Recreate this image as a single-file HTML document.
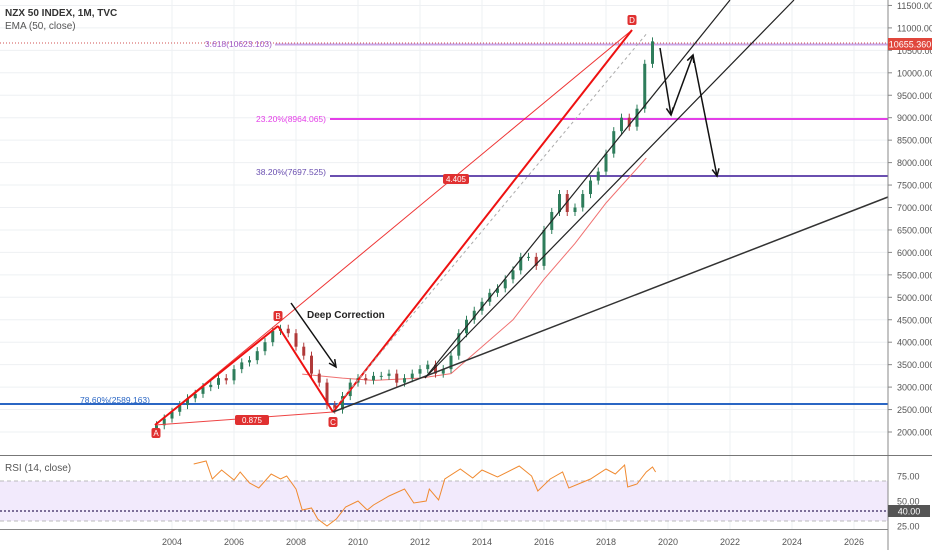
<!DOCTYPE html>
<html><head><meta charset="utf-8"><style>
body{margin:0;background:#fff;font-family:"Liberation Sans",sans-serif}
svg{display:block}
</style></head><body>
<svg width="932" height="550" viewBox="0 0 932 550" id="chart">
<g id="grid"></g>
<g id="main"></g>
<g id="rsi"></g>
<g id="axes"></g>
<text x="5" y="16" font-size="10" font-weight="bold" fill="#333">NZX 50 INDEX, 1M, TVC</text>
<text x="5" y="29" font-size="10" fill="#555">EMA (50, close)</text>
<text x="5" y="471" font-size="10" fill="#555">RSI (14, close)</text>
</svg>
<script>
const priceTicks=[2000,2500,3000,3500,4000,4500,5000,5500,6000,6500,7000,7500,8000,8500,9000,9500,10000,10500,11000,11500];
const yearTicks=[2004,2006,2008,2010,2012,2014,2016,2018,2020,2022,2024,2026];
const rsiTicks=[25,50,75];
const qStart=2003.5;
const closes=[2150,2300,2450,2600,2750,2850,3000,3050,3200,3150,3400,3550,3600,3800,4000,4250,4300,4200,3900,3700,3300,3100,2600,2500,2800,3100,3200,3150,3250,3250,3300,3100,3200,3300,3400,3500,3300,3400,3700,4200,4500,4700,4900,5100,5200,5400,5600,5900,5900,5700,6500,6900,7300,6900,7000,7300,7600,7800,8200,8700,9000,8800,9200,10200,10700];
const emaYears=[2008.2,2009.5,2010.5,2012,2013,2014,2015,2016,2017,2018,2019.3];
const emaVals=[3290,3200,3150,3200,3300,3900,4500,5400,6200,7100,8100];
const rsiYears=[2004.7,2005.1,2005.3,2005.6,2006,2006.2,2006.5,2006.8,2007.2,2007.5,2007.7,2008,2008.2,2008.5,2008.7,2009,2009.3,2009.6,2010,2010.3,2010.5,2011,2011.5,2011.8,2012.2,2012.3,2012.6,2012.8,2013.3,2013.7,2014,2014.5,2015.2,2015.6,2015.8,2016.2,2016.6,2016.8,2017.5,2018,2018.3,2018.6,2018.7,2019,2019.3,2019.5,2019.6];
const rsiVals=[87,90,72,81,71,79,68,63,77,72,75,62,41,43,32,25,32,44,50,41,46,55,62,48,50,62,51,72,82,73,81,74,85,75,60,72,79,63,72,82,77,86,64,67,79,84,79];

const NS='http://www.w3.org/2000/svg';
const X=yr=>172+(yr-2004)*31;
const Y=v=>432-(v-2000)*0.0449;
const RY=v=>551-v;
function el(p,tag,a){const e=document.createElementNS(NS,tag);for(const k in a)e.setAttribute(k,a[k]);p.appendChild(e);return e;}
const grid=document.getElementById('grid'),main=document.getElementById('main'),rsi=document.getElementById('rsi'),axes=document.getElementById('axes');

priceTicks.forEach(v=>{const l=el(grid,'line',{x1:0,x2:888,y1:Y(v),y2:Y(v),stroke:'#eef0f3'});


const t=el(axes,'text',{x:897,y:Y(v)+3.5,'font-size':9,fill:'#555'});t.textContent=v.toFixed(3);


el(axes,'line',{x1:888,x2:892,y1:Y(v),y2:Y(v),stroke:'#888'});});
yearTicks.forEach(yr=>{const l=el(grid,'line',{x1:X(yr),x2:X(yr),y1:0,y2:530,stroke:'#eef0f3'});


const t=el(axes,'text',{x:X(yr),y:545,'font-size':9,fill:'#555','text-anchor':'middle'});t.textContent=yr;

});

el(axes,'line',{x1:888,x2:888,y1:0,y2:550,stroke:'#888'});
el(axes,'line',{x1:0,x2:932,y1:455.5,y2:455.5,stroke:'#777'});
el(axes,'line',{x1:0,x2:888,y1:529.5,y2:529.5,stroke:'#888'});

function hline(y,x1,color,w,name){const l=el(main,'line',{x1:x1,x2:888,y1:y,y2:y,stroke:color,'stroke-width':w});

}
el(main,'line',{x1:0,x2:888,y1:43,y2:43,stroke:'#d05050','stroke-dasharray':'1,2','stroke-width':1});
hline(44.5,275,'#c9a6e6',2,'fib-3618-line');
hline(119,330,'#e43fe8',2,'fib-2320-line');
hline(176,330,'#6a4fb0',2,'fib-3820-line');
hline(404,0,'#2a66c4',2,'fib-7860-line');
function lbl(x,y,txt,c,anchor,name){const t=el(main,'text',{x:x,y:y,'font-size':8.5,fill:c,'text-anchor':anchor||'end'});t.textContent=txt;

}
lbl(272,47,'3.618(10623.103)','#a05cc8','end','fib-3618-label');
lbl(326,122,'23.20%(8964.065)','#e43fe8','end','fib-2320-label');
lbl(326,175,'38.20%(7697.525)','#6a4fb0','end','fib-3820-label');
lbl(150,403,'78.60%(2589.163)','#2a66c4','end','fib-7860-label');

let d=emaYears.map((yr,i)=>(i?'L':'M')+X(yr).toFixed(1)+','+Y(emaVals[i]).toFixed(1)).join(' ');
const ema=el(main,'path',{d:d,fill:'none',stroke:'#f07070','stroke-width':1});



closes.forEach((c,i)=>{const o=i?closes[i-1]:c-100;const x=X(qStart+i*0.25);const up=c>=o;const col=up?'#2e7d5b':'#b03a3a';
const hi=Math.max(o,c)+90,lo=Math.min(o,c)-90;
el(main,'line',{x1:x,x2:x,y1:Y(hi),y2:Y(lo),stroke:col,'stroke-width':1});
const r=el(main,'rect',{x:x-1.5,y:Y(Math.max(o,c)),width:3,height:Math.max(1,Math.abs(Y(o)-Y(c))),fill:col});

});

function ln(x1,y1,x2,y2,c,w,name,dash){const l=el(main,'line',{x1,y1,x2,y2,stroke:c,'stroke-width':w});if(dash)l.setAttribute('stroke-dasharray',dash);

return l;}
ln(155,425,632,30,'#e33','1','trend-a-d');
ln(155,425,333,412,'#e44','1','line-a-c');
ln(155,425,278,326,'#e11','2','wave-a-b');
ln(278,326,333,412,'#e11','2','wave-b-c');
ln(333,412,632,30,'#e11','2','wave-c-d');
ln(333,410,648,32,'#aaa','1','dashed-projection','3,3');
ln(333,412,888,197,'#333','1.5','long-trendline');
ln(425,378,730,0,'#222','1.2','steep-trendline-1');
ln(425,378,794,0,'#222','1.2','steep-trendline-2');
function arrow(pts,name){const p=el(main,'polyline',{points:pts.map(q=>q.join(',')).join(' '),fill:'none',stroke:'#111','stroke-width':1.5});


const [a,b]=pts.slice(-2);const ang=Math.atan2(b[1]-a[1],b[0]-a[0]);
const h=(s)=>[b[0]-8*Math.cos(ang+s),b[1]-8*Math.sin(ang+s)];
el(main,'polyline',{points:[h(0.45),b,h(-0.45)].map(q=>q.join(',')).join(' '),fill:'none',stroke:'#111','stroke-width':1.5});}
arrow([[291,303],[336,367]],'correction-arrow');
arrow([[660,48],[671,115]],'projection-arrow-1');
arrow([[671,115],[693,55]],'projection-arrow-2');
arrow([[693,55],[717,176]],'projection-arrow-3');
const dc=el(main,'text',{x:307,y:318,'font-size':10,'font-weight':'bold',fill:'#222'});dc.textContent='Deep Correction';



function tag(x,y,txt,name,w){el(main,'rect',{x:x-(w||4.5),y:y-5,width:2*(w||4.5),height:10,rx:2,fill:'#e03030'});
const t=el(main,'text',{x:x,y:y+3,'font-size':8,fill:'#fff','text-anchor':'middle'});t.textContent=txt;

}
tag(156,433,'A','point-a');tag(278,316,'B','point-b');tag(333,422,'C','point-c');tag(632,20,'D','point-d');
tag(252,420,'0.875','ratio-ac',17);tag(456,179,'4.405','ratio-cd',13);

el(axes,'rect',{x:888,y:38,width:44,height:12,fill:'#e0463c'});
const pt=el(axes,'text',{x:910,y:47.5,'font-size':9,fill:'#fff','text-anchor':'middle'});pt.textContent='10655.360';



el(rsi,'rect',{x:0,y:RY(70),width:888,height:40,fill:'#f2eafc'});
el(rsi,'line',{x1:0,x2:888,y1:RY(70),y2:RY(70),stroke:'#bbb','stroke-dasharray':'4,3'});
el(rsi,'line',{x1:0,x2:888,y1:RY(30),y2:RY(30),stroke:'#bbb','stroke-dasharray':'4,3'});
el(rsi,'line',{x1:0,x2:888,y1:RY(40),y2:RY(40),stroke:'#554477','stroke-width':1.5,'stroke-dasharray':'2,2'});
d=rsiYears.map((yr,i)=>(i?'L':'M')+X(yr).toFixed(1)+','+RY(rsiVals[i]).toFixed(1)).join(' ');
const rl=el(rsi,'path',{d:d,fill:'none',stroke:'#f08a30','stroke-width':1});


rsiTicks.forEach(v=>{const t=el(axes,'text',{x:897,y:RY(v)+3.5,'font-size':9,fill:'#555'});t.textContent=v.toFixed(2);

});
el(axes,'rect',{x:888,y:RY(40)-6,width:42,height:12,fill:'#555'});
const rt=el(axes,'text',{x:909,y:RY(40)+3.5,'font-size':9,fill:'#fff','text-anchor':'middle'});rt.textContent='40.00';


</script>
</body></html>
